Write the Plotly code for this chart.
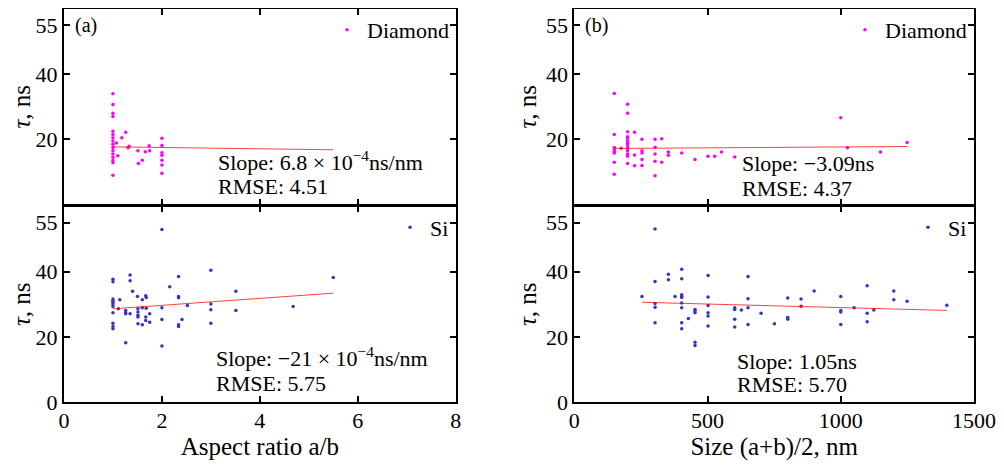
import plotly.graph_objects as go
from plotly.subplots import make_subplots

# (a) aspect ratio a/b vs tau
DIA_AR_X = [1.0] * 16 + [1.07, 1.1, 1.18, 1.26, 1.31, 1.33, 1.51, 1.52, 1.6, 1.66, 1.75, 1.74] + [2.0] * 7
DIA_AR_Y = [34.0, 30.7, 28.0, 27.0, 22.5, 21.5, 20.5, 19.5, 18.5, 17.5, 16.5, 15.5, 14.5, 13.5, 12.8, 9.0,
            18.9, 15.0, 20.5, 22.2, 17.4, 17.9, 16.5, 12.6, 13.6, 16.2, 16.5, 18.0,
            20.3, 18.1, 15.9, 15.1, 13.6, 12.1, 9.6]
DIA_AR_FIT_X = [1.0, 5.5]
DIA_AR_FIT_Y = [17.7, 16.8]

SI_AR_X = [1.0] * 11 + [1.14, 1.11, 1.26, 1.26, 1.26, 1.26, 1.35, 1.35, 1.35, 1.40, 1.5,
                        1.51, 1.51, 1.51, 1.51, 1.51, 1.6, 1.6, 1.6, 1.67, 1.68, 1.68, 1.67, 1.67, 1.75, 1.75,
                        2.0, 2.0, 2.0, 2.0, 2.16, 2.34, 2.34, 2.34, 2.34, 2.34, 2.41, 2.52,
                        3.0, 3.0, 3.0, 3.0, 3.51, 3.51, 4.68, 5.5]
SI_AR_Y = [37.7, 36.9, 31.6, 31.1, 30.6, 30.1, 29.3, 27.4, 24.2, 23.2, 22.5,
           31.4, 28.6, 28.1, 27.4, 27.1, 18.2, 39.0, 37.2, 27.1, 34.0, 32.4,
           28.6, 27.6, 26.6, 26.1, 24.0, 31.4, 28.9, 23.7, 32.6, 32.1, 28.8, 26.1, 25.0, 27.1, 24.5,
           52.9, 28.9, 25.3, 17.2, 35.4, 38.5, 32.4, 32.0, 23.7, 23.2, 25.3, 29.6,
           40.4, 30.1, 28.3, 24.2, 34.0, 28.1, 29.3, 38.2]
SI_AR_FIT_X = [1.0, 5.5]
SI_AR_FIT_Y = [28.6, 33.4]

# (b) size (a+b)/2 vs tau
DIA_SZ_X = [150] * 8 + [176] + [200] * 13 + [226, 226, 226, 254, 254, 254, 254, 254] + [303] * 5 + \
           [328, 328, 353, 353, 403, 453, 502, 527, 552, 602, 1000, 1025, 1149, 1249]
DIA_SZ_Y = [34.1, 21.5, 17.5, 16.8, 16.3, 15.8, 13.0, 9.3,
            17.3,
            30.8, 28.0, 22.3, 20.8, 20.3, 19.5, 18.8, 18.1, 17.3, 16.5, 15.5, 14.8, 12.6,
            22.2, 15.2, 11.9, 20.0, 16.5, 15.8, 13.8, 12.0,
            20.0, 17.6, 15.5, 13.3, 8.8,
            20.2, 13.0, 16.1, 15.1, 15.8, 13.8, 14.8, 14.8, 16.1, 14.6, 26.6, 17.4, 16.1, 19.0]
DIA_SZ_FIT_X = [150, 1250]
DIA_SZ_FIT_Y = [17.2, 17.8]

SI_SZ_X = [254, 303, 303, 303, 303, 303, 353, 353, 378] + [403] * 9 + [428] + [453] * 5 + [502] * 6 + \
          [602] * 4 + [627] + [652] * 4 + [701, 751, 801, 801, 801, 851, 851, 900,
                                           1000, 1000, 1000, 1000, 1050, 1099, 1099, 1099, 1124, 1199, 1199, 1249, 1398]
SI_SZ_Y = [32.4, 53.1, 37.0, 30.2, 29.1, 24.3, 39.2, 37.5, 32.4,
           40.7, 37.8, 32.9, 32.4, 32.1, 30.4, 28.9, 24.3, 22.5,
           25.6, 28.4, 27.9, 27.4, 18.3, 17.3,
           38.8, 32.2, 29.6, 27.4, 26.4, 23.3,
           28.9, 28.4, 25.4, 23.0, 28.2, 38.5, 31.7, 28.9, 23.8,
           27.2, 24.0, 31.9, 25.9, 25.4, 31.6, 29.4, 34.1,
           32.4, 28.1, 27.6, 23.8, 28.9, 35.7, 27.2, 24.6, 28.2, 34.1, 31.4, 30.9, 29.7]
SI_SZ_FIT_X = [254, 1398]
SI_SZ_FIT_Y = [30.6, 28.1]

MAGENTA = "#ff00ff"
BLUE = "#3434c8"
FIT = "rgba(255,0,0,0.75)"
FONT = "Liberation Serif"

fig = make_subplots(rows=2, cols=2)

panels = [
    (1, 1, DIA_AR_X, DIA_AR_Y, DIA_AR_FIT_X, DIA_AR_FIT_Y, "Diamond", MAGENTA, "legend"),
    (1, 2, DIA_SZ_X, DIA_SZ_Y, DIA_SZ_FIT_X, DIA_SZ_FIT_Y, "Diamond", MAGENTA, "legend2"),
    (2, 1, SI_AR_X, SI_AR_Y, SI_AR_FIT_X, SI_AR_FIT_Y, "Si", BLUE, "legend3"),
    (2, 2, SI_SZ_X, SI_SZ_Y, SI_SZ_FIT_X, SI_SZ_FIT_Y, "Si", BLUE, "legend4"),
]
for row, col, xs, ys, fx, fy, name, color, leg in panels:
    fig.add_trace(go.Scatter(x=xs, y=ys, mode="markers", name=name, legend=leg,
                             marker=dict(size=3.5, color=color)), row=row, col=col)
    fig.add_trace(go.Scatter(x=fx, y=fy, mode="lines", showlegend=False,
                             line=dict(color=FIT, width=1)), row=row, col=col)

axis_style = dict(showline=True, linecolor="black", linewidth=2, mirror="ticks",
                  ticks="inside", ticklen=6, tickwidth=2, tickcolor="black", automargin=False,
                  showgrid=False, zeroline=False, tickfont=dict(size=22, family=FONT, color="black"))

left_dom = [0, 0.4304]
right_dom = [0.5608, 1.0]
top_dom = [0.5025, 1.0]
bot_dom = [0.0, 0.4975]

xtitle_font = dict(size=25, family=FONT, color="black")
fig.update_xaxes(axis_style)
fig.update_yaxes(axis_style)
fig.update_layout(
    xaxis=dict(domain=left_dom, range=[0, 8], tickvals=[0, 2, 4, 6, 8], showticklabels=False),
    xaxis3=dict(domain=left_dom, range=[0, 8], tickvals=[0, 2, 4, 6, 8], ticklabelstandoff=-2,
                title=dict(text="Aspect ratio a/b", font=xtitle_font, standoff=2)),
    xaxis2=dict(domain=right_dom, range=[0, 1500], tickvals=[0, 500, 1000, 1500], showticklabels=False),
    xaxis4=dict(domain=right_dom, range=[0, 1500], tickvals=[0, 500, 1000, 1500], ticklabelstandoff=-2,
                title=dict(text="Size (a+b)/2, nm", font=xtitle_font, standoff=2)),
)
ytitle = dict(text="<i>τ</i>, ns", font=dict(size=25, family=FONT, color="black"), standoff=2)
fig.update_layout(
    yaxis=dict(domain=top_dom, range=[0, 60], tickvals=[20, 40, 55], title=ytitle),
    yaxis2=dict(domain=top_dom, range=[0, 60], tickvals=[20, 40, 55], title=ytitle),
    yaxis3=dict(domain=bot_dom, range=[0, 60], tickvals=[0, 20, 40, 55], title=ytitle),
    yaxis4=dict(domain=bot_dom, range=[0, 60], tickvals=[0, 20, 40, 55], title=ytitle),
)

# legends sit inside each panel's top right corner
leg_style = dict(bgcolor="rgba(0,0,0,0)", font=dict(size=22, family=FONT, color="black"),
                 xanchor="right", yanchor="top", itemwidth=30)
fig.update_layout(
    legend=dict(leg_style, x=0.4286, y=1.0),
    legend2=dict(leg_style, x=0.9978, y=1.0),
    legend3=dict(leg_style, x=0.4286, y=0.4975),
    legend4=dict(leg_style, x=0.9978, y=0.4975),
)

notes = [
    ("x domain", "y domain", 0.388, 0.224, "Slope: 6.8 × 10<sup>−4</sup>ns/nm"),
    ("x domain", "y domain", 0.388, 0.090, "RMSE: 4.51"),
    ("x3 domain", "y3 domain", 0.383, 0.232, "Slope: −21 × 10<sup>−4</sup>ns/nm"),
    ("x3 domain", "y3 domain", 0.383, 0.097, "RMSE: 5.75"),
    ("x2 domain", "y2 domain", 0.415, 0.212, "Slope: −3.09ns"),
    ("x2 domain", "y2 domain", 0.415, 0.084, "RMSE: 4.37"),
    ("x4 domain", "y4 domain", 0.402, 0.208, "Slope: 1.05ns"),
    ("x4 domain", "y4 domain", 0.402, 0.087, "RMSE: 5.70"),
]
for xr, yr, x, y, t in notes:
    fig.add_annotation(xref=xr, yref=yr, x=x, y=y, text=t, showarrow=False,
                       xanchor="left", yanchor="middle",
                       font=dict(size=22, family=FONT, color="black"))

for xr, yr, t in [("x domain", "y domain", "(a)"), ("x2 domain", "y2 domain", "(b)")]:
    fig.add_annotation(xref=xr, yref=yr, x=0.022, y=0.985, text=t, showarrow=False,
                       xanchor="left", yanchor="top",
                       font=dict(size=20, family=FONT, color="black"))

# the page body keeps an 8px margin, so the figure is a bit smaller than the window
fig.update_layout(
    width=996, height=462,
    margin=dict(l=56, r=30, t=1, b=68),
    plot_bgcolor="white", paper_bgcolor="white",
    font=dict(family=FONT, color="black"),
)

fig.write_html("out.html")
